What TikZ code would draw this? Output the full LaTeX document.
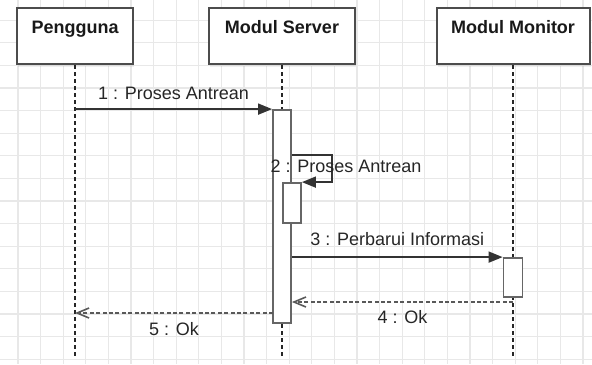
\documentclass[tikz,border=0pt]{standalone}
\usepackage{fontspec}
\setmainfont{Liberation Sans}
\usetikzlibrary{arrows.meta}
\usetikzlibrary{shadows}

\begin{document}
\begin{tikzpicture}[x=0.5pt, y=-0.5pt,
    lifebox/.style={draw=black!70, line width=1pt, fill=white, minimum height=28pt,
      font=\bfseries\fontsize{9}{11}\selectfont, text=black!90, text height=6.5pt, text depth=9.2pt,
      drop shadow={shadow xshift=0.5pt, shadow yshift=-1.5pt, opacity=0.12}},
    actbar/.style={draw=black!60, line width=0.9pt, fill=white, minimum width=9pt, inner sep=0pt},
    lifeline/.style={black!85, line width=0.7pt, dash pattern=on 2pt off 1.5pt},
    callmsg/.style={black!80, line width=0.8pt, -{Triangle[length=7pt, width=5.5pt]}},
    replymsg/.style={black!65, line width=0.8pt, dash pattern=on 2pt off 1.2pt, -{Straight Barb[length=6pt, width=5pt]}},
    msglabel/.style={font=\fontsize{9}{11}\selectfont, text=black!85, inner sep=0pt, text height=6.5pt, text depth=0pt}]
                \useasboundingbox (0,0) rectangle (592,364);
                \fill[white] (0,0) rectangle (592,364);

                % Background grid
                \foreach \i in {-1,...,25}
                    \draw[black!9, line width=0.6pt] (17.9+22.6*\i, 0) -- (17.9+22.6*\i, 364);
                \foreach \j in {-1,...,15}
                    \draw[black!9, line width=0.6pt] (0, 20.1+22.6*\j) -- (592, 20.1+22.6*\j);

                % Heads
                \node[lifebox, minimum width=58pt] (user) at (75,36) {Pengguna};
                \node[lifebox, minimum width=73pt] (server) at (282,36) {Modul Server};
                \node[lifebox, minimum width=76.5pt] (monitor) at (513,36) {Modul Monitor};

                % Lifelines
                \coordinate (userend) at (75,356);
                \draw[lifeline] (user) -- (userend);
                \draw[lifeline] (server) -- (server |- userend);
                \draw[lifeline] (monitor) -- (monitor |- userend);

                % Activations
                \node[actbar, minimum height=106.5pt] (act1) at (282,216.5) {};
                \node[actbar, minimum height=20pt] (act2) at (292,203) {};
                \node[actbar, minimum height=19.5pt, minimum width=9.5pt] (act3) at (513,277.5) {};

                % Calls
                \draw[callmsg] (user |- act1.north west) -- (act1.north west)
                    node[msglabel, midway, above=4.2pt] {1 : Proses Antrean};
                \coordinate (loop) at (332,155);
                \draw[callmsg] (act1.east |- loop) -- (loop) |- (act2.north east)
                    node[msglabel, pos=0.25, anchor=base, xshift=7pt, yshift=-2pt] {2 : Proses Antrean};
                \draw[callmsg] (act1.east |- act3.north west) -- (act3.north west)
                    node[msglabel, midway, above=5.5pt] {3 : Perbarui Informasi};

                % Replies
                \coordinate (ok4) at (513,302);
                \draw[replymsg] (ok4) -- (ok4 -| act1.east)
                    node[msglabel, midway, below=4pt] {4 : Ok};
                \coordinate (ok5) at (273,313);
                \draw[replymsg] (ok5) -- (ok5 -| user)
                    node[msglabel, midway, below=4.3pt] {5 : Ok};
            \end{tikzpicture}
\end{document}
